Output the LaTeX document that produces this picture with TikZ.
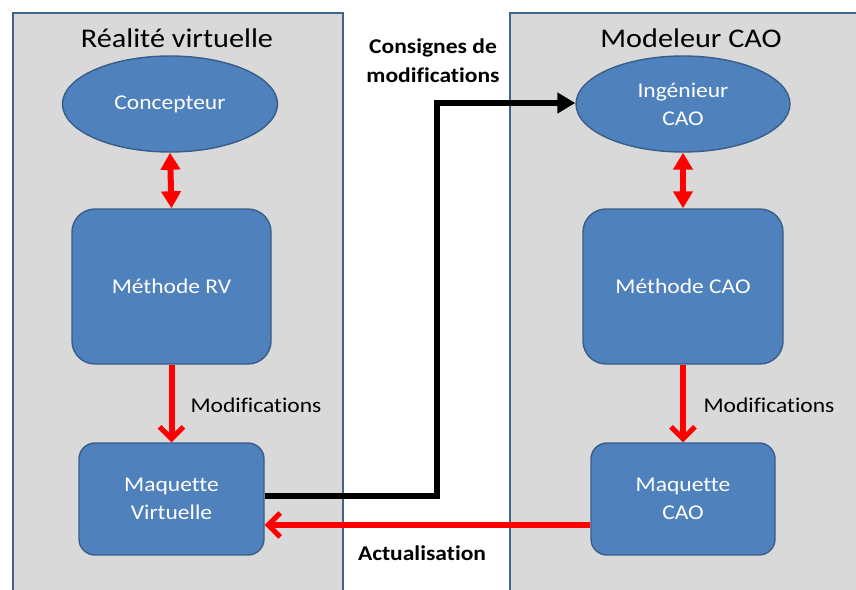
\documentclass[tikz,border=0pt]{standalone}
\usepackage{fontspec}
\setmainfont{Carlito}[FakeStretch=1.12, Ligatures=NoCommon]
\usetikzlibrary{arrows.meta,shapes.geometric}
\definecolor{panelfill}{HTML}{D9D9D9}
\definecolor{paneldraw}{HTML}{41648F}
\definecolor{nodefill}{HTML}{4F81BD}
\definecolor{nodedraw}{HTML}{385D8A}
\definecolor{arrowred}{HTML}{FF0000}
\tikzset{
  panel/.style={fill=panelfill, draw=paneldraw, line width=1.6pt},
  paneltitle/.style={font=\fontsize{27}{30}\selectfont, text=black},
  ellnode/.style={ellipse, fill=nodefill, draw=nodedraw, line width=1.4pt, text=white,
    font=\fontsize{21}{28}\selectfont, align=center, inner sep=0pt},
  boxnode/.style={rectangle, fill=nodefill, draw=nodedraw, line width=1.4pt, text=white,
    font=\fontsize{21}{28}\selectfont, align=center, inner sep=0pt},
  lbl/.style={font=\fontsize{21}{28}\selectfont, text=black, align=center},
  boldlbl/.style={font=\fontsize{21}{29}\selectfont\bfseries, text=black, align=center},
  dblarrow/.style={draw=arrowred, line width=6pt,
    {Triangle[width=19pt,length=17pt]}-{Triangle[width=19pt,length=17pt]}},
  redarrow/.style={draw=arrowred, line width=6pt,
    -{Straight Barb[width=24pt,length=12pt,line width=5pt]}},
  blackarrow/.style={draw=black, line width=6pt,
    -{Triangle[width=20pt,length=18pt]}},
}
\begin{document}
\begin{tikzpicture}[x=1pt,y=-1pt]
\useasboundingbox (0,0) rectangle (856,589);
\fill[white] (0,0) rectangle (856,589);
\begin{scope}
  \clip (0,0) rectangle (856,589);
  \draw[panel] (13,13) rectangle (343,600);
  \draw[panel] (510,13) rectangle (870,600);
\end{scope}
\node[paneltitle] (t1) at (177,38) {Réalité virtuelle};
\node[paneltitle] (t2) at (691,38) {Modeleur CAO};

\node[ellnode, minimum width=215pt, minimum height=96pt] (co) at (170,104) {Concepteur};
\node[ellnode, minimum width=214pt, minimum height=96pt] (ic) at (683,104) {Ingénieur\\CAO};

\node[boxnode, rounded corners=23pt, minimum width=199pt, minimum height=155pt] (mrv) at (171.5,286.5) {Méthode RV};
\node[boxnode, rounded corners=23pt, minimum width=200pt, minimum height=155pt] (mcao) at (683,286.5) {Méthode CAO};

\node[boxnode, rounded corners=16pt, minimum width=185pt, minimum height=112pt] (mv) at (171.5,499) {Maquette\\Virtuelle};
\node[boxnode, rounded corners=16pt, minimum width=184pt, minimum height=112pt] (mc) at (683,499) {Maquette\\CAO};

\draw[dblarrow] (co.south) -- (mrv.north);
\draw[dblarrow] (ic.south) -- (mcao.north);

\draw[redarrow] (mrv.south) -- (mv.north);
\draw[redarrow] (mcao.south) -- (mc.north);

\node[lbl] (m1) at (256,405) {Modifications};
\node[lbl] (m2) at (769,405) {Modifications};

\coordinate (j) at (437,103);
\draw[blackarrow] ([yshift=3pt]mv.east) -| (j) -- (ic.west |- j);
\node[boldlbl] (cons) at (433,61) {Consignes de\\modifications};

\draw[redarrow] ([yshift=-26pt]mc.west) -- ([yshift=-26pt]mv.east);
\node[boldlbl] (act) at (422,553) {Actualisation};
\end{tikzpicture}
\end{document}
